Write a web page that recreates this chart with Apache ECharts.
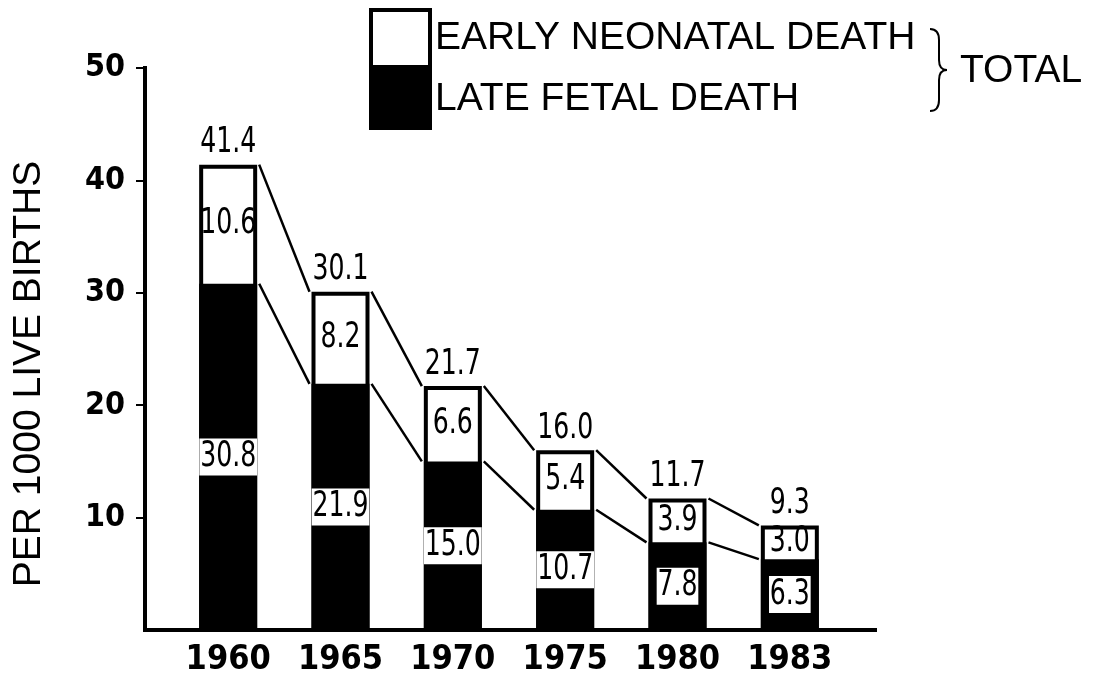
<!DOCTYPE html>
<html>
<head>
<meta charset="utf-8">
<title>Perinatal mortality</title>
<script src="https://cdn.jsdelivr.net/npm/echarts@6/dist/echarts.min.js"></script>
<style>
  html, body { margin: 0; padding: 0; background: #fff; }
  #chart { width: 1097px; height: 680px; }
</style>
</head>
<body>
<div id="chart"></div>
<script>
// Perinatal deaths per 1000 live births
const years = ['1960', '1965', '1970', '1975', '1980', '1983'];
const totalDeaths = [41.4, 30.1, 21.7, 16.0, 11.7, 9.3];
const earlyNeonatal = [10.6, 8.2, 6.6, 5.4, 3.9, 3.0];
const lateFetal = [30.8, 21.9, 15.0, 10.7, 7.8, 6.3];
const yTicks = [10, 20, 30, 40, 50];

const NUM_FONT = '"Liberation Sans Narrow", "DejaVu Sans Condensed", "Liberation Sans", sans-serif';
const TXT_FONT = '"Liberation Sans", Arial, sans-serif';
const BAR_W = 58;
const BORDER = 4;
const HALF_OUTER = BAR_W / 2 + BORDER / 2;
const VALUE_FONT = '35px ' + NUM_FONT;
const VALUE_SQUEEZE = 0.8;   // horizontal compression of the value figures

const fmt = v => Number(v).toFixed(1);

// label rows: [category index, position value, shown value]
const totalRows = years.map((y, i) => [i, totalDeaths[i], totalDeaths[i]]);
const lateRows = years.map((y, i) => [i, lateFetal[i] / 2, lateFetal[i]]);
const earlyRows = years.map((y, i) => [i, (totalDeaths[i] + lateFetal[i]) / 2, earlyNeonatal[i]]);
// rows for the connecting lines between neighbouring bars
const linkRows = years.slice(0, -1).map((y, i) =>
  [i, totalDeaths[i], totalDeaths[i + 1], lateFetal[i], lateFetal[i + 1]]);

// value figures placed through the category / value scales
function valueLabels(rows, opts) {
  return {
    type: 'custom', xAxisIndex: 0, yAxisIndex: 0,
    data: rows, z: 6, silent: true,
    renderItem: (params, api) => {
      const p = api.coord([api.value(0), api.value(1)]);
      const style = {
        text: fmt(api.value(2)),
        font: VALUE_FONT,
        fill: '#000',
        align: 'center',
        verticalAlign: opts.above ? 'bottom' : 'middle'
      };
      if (opts.box) {
        style.backgroundColor = '#fff';
        style.padding = [2, 1, 0, 1];
      }
      return {
        type: 'text',
        x: p[0], y: opts.above ? p[1] - 4 : p[1],
        scaleX: VALUE_SQUEEZE,
        style: style
      };
    }
  };
}

// curly brace "}" made of quadratic curves and straight strokes
const braceStyle = { fill: 'none', stroke: '#000', lineWidth: 2 };
const brace = {
  type: 'group',
  children: [
    { type: 'bezierCurve', shape: { x1: 930, y1: 29, cpx1: 939, cpy1: 29, x2: 939, y2: 40 }, style: braceStyle },
    { type: 'line', shape: { x1: 939, y1: 40, x2: 939, y2: 60 }, style: braceStyle },
    { type: 'bezierCurve', shape: { x1: 939, y1: 60, cpx1: 939, cpy1: 70, x2: 947, y2: 70 }, style: braceStyle },
    { type: 'bezierCurve', shape: { x1: 947, y1: 70, cpx1: 939, cpy1: 70, x2: 939, y2: 80 }, style: braceStyle },
    { type: 'line', shape: { x1: 939, y1: 80, x2: 939, y2: 100 }, style: braceStyle },
    { type: 'bezierCurve', shape: { x1: 939, y1: 100, cpx1: 939, cpy1: 111, x2: 930, y2: 111 }, style: braceStyle }
  ]
};

const chart = echarts.init(document.getElementById('chart'), null, { renderer: 'canvas' });

chart.setOption({
  animation: false,
  backgroundColor: '#fff',
  legend: {
    orient: 'vertical',
    left: 369,
    top: 8,
    padding: 0,
    itemWidth: 59,
    itemHeight: 57,
    itemGap: 0,
    selectedMode: false,
    textStyle: { fontFamily: TXT_FONT, fontSize: 39, color: '#000' },
    data: [
      { name: 'EARLY NEONATAL DEATH', icon: 'rect',
        itemStyle: { color: '#fff', borderColor: '#000', borderWidth: BORDER } },
      { name: 'LATE FETAL DEATH', icon: 'rect',
        itemStyle: { color: '#000', borderColor: '#000', borderWidth: BORDER } }
    ]
  },
  graphic: [
    brace,
    {
      type: 'text', x: 960, y: 71,
      style: { text: 'TOTAL', font: '39px ' + TXT_FONT, fill: '#000', align: 'left', verticalAlign: 'middle' }
    },
    {
      type: 'text', x: 29, y: 374, rotation: Math.PI / 2,
      style: { text: 'PER 1000 LIVE BIRTHS', font: '39px ' + TXT_FONT, fill: '#000', align: 'center', verticalAlign: 'middle' }
    }
  ],
  grid: [
    { left: 172, right: 251, top: 68, bottom: 50 },   // bars
    { left: 145, right: 222, top: 68, bottom: 50 }    // frame axes
  ],
  xAxis: [
    {
      gridIndex: 0, type: 'category', data: years,
      axisLine: { show: false }, axisTick: { show: false },
      axisLabel: { interval: 0, margin: 13, color: '#000', fontFamily: NUM_FONT, fontWeight: 'bold', fontSize: 34 }
    },
    {
      gridIndex: 1, type: 'value', min: 0, max: 1,
      axisLine: { show: true, lineStyle: { color: '#000', width: 4, cap: 'square' } },
      axisTick: { show: false }, axisLabel: { show: false }, splitLine: { show: false }
    }
  ],
  yAxis: [
    {
      gridIndex: 0, type: 'value', min: 0, max: 50, show: false, splitLine: { show: false }
    },
    {
      gridIndex: 1, type: 'value', min: 0, max: 50, interval: 10,
      axisLine: { show: true, lineStyle: { color: '#000', width: 4, cap: 'square' } },
      axisTick: { show: true, length: 9, customValues: yTicks, lineStyle: { color: '#000', width: 2 } },
      axisLabel: { customValues: yTicks, margin: 20, color: '#000', fontFamily: NUM_FONT, fontWeight: 'bold', fontSize: 32 },
      splitLine: { show: false }
    }
  ],
  series: [
    {
      name: 'EARLY NEONATAL DEATH',
      type: 'bar', xAxisIndex: 0, yAxisIndex: 0,
      data: totalDeaths,
      barWidth: BAR_W, barGap: '-100%',
      itemStyle: { color: '#fff', borderColor: '#000', borderWidth: BORDER },
      z: 2
    },
    {
      name: 'LATE FETAL DEATH',
      type: 'bar', xAxisIndex: 0, yAxisIndex: 0,
      data: lateFetal,
      barWidth: BAR_W, barGap: '-100%',
      itemStyle: { color: '#000', borderColor: '#000', borderWidth: BORDER },
      z: 3
    },
    valueLabels(totalRows, { above: true }),
    valueLabels(lateRows, { box: true }),
    valueLabels(earlyRows, {}),
    {
      // lines joining the bar tops and the segment boundaries
      type: 'custom', xAxisIndex: 0, yAxisIndex: 0,
      data: linkRows,
      z: 1,
      silent: true,
      renderItem: (params, api) => {
        const i = api.value(0);
        const a1 = api.coord([i, api.value(1)]);
        const a2 = api.coord([i + 1, api.value(2)]);
        const b1 = api.coord([i, api.value(3)]);
        const b2 = api.coord([i + 1, api.value(4)]);
        const st = { stroke: '#000', lineWidth: 2.5 };
        return {
          type: 'group',
          children: [
            { type: 'line', shape: { x1: a1[0] + HALF_OUTER, y1: a1[1], x2: a2[0] - HALF_OUTER, y2: a2[1] }, style: st },
            { type: 'line', shape: { x1: b1[0] + HALF_OUTER, y1: b1[1], x2: b2[0] - HALF_OUTER, y2: b2[1] }, style: st }
          ]
        };
      }
    }
  ]
});
</script>
</body>
</html>
